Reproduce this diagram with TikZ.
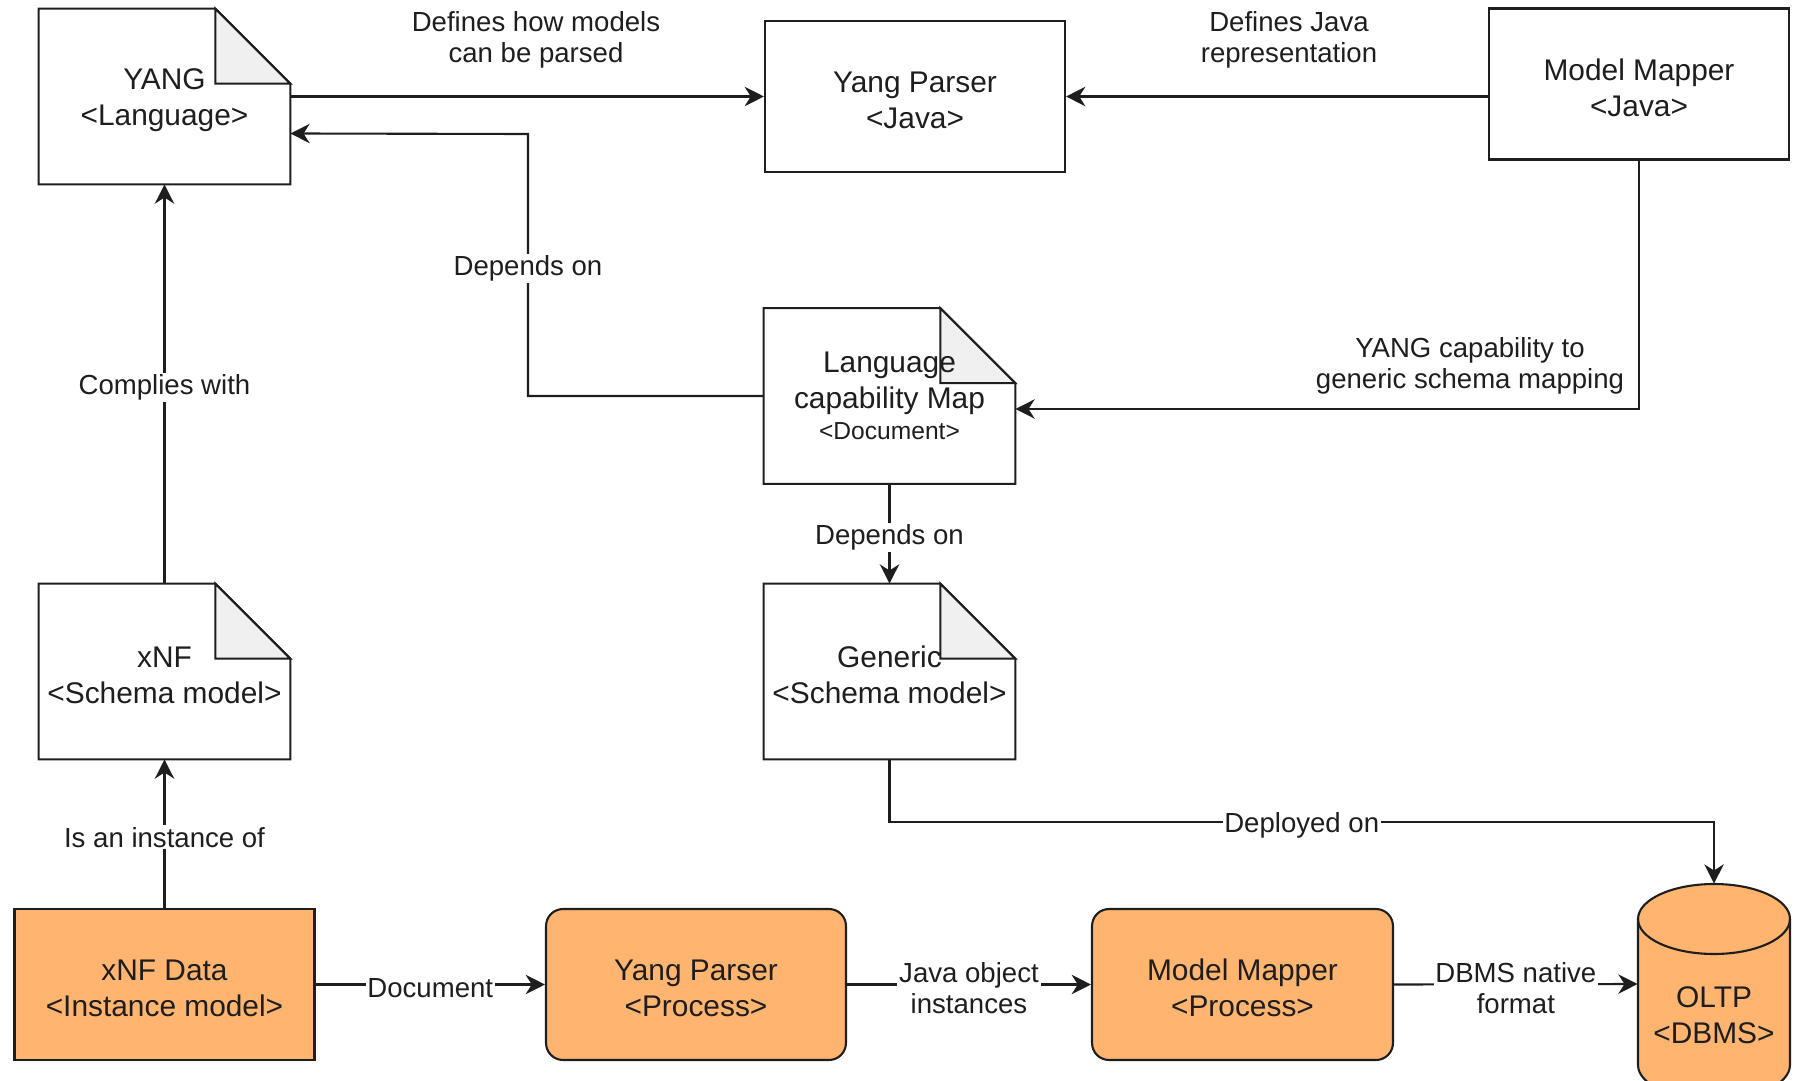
\documentclass[tikz,border=0pt]{standalone}
\usepackage{fontspec}
\setmainfont{Liberation Sans}
\usepackage{xcolor}
\definecolor{proc-orange}{RGB}{255,181,112}
\definecolor{fold-gray}{RGB}{240,240,240}
\definecolor{ink}{RGB}{30,30,30}
\usepackage{tikz}
\usetikzlibrary{arrows.meta,backgrounds}

% a little room above the first line of a box text
\newcommand{\topgap}{\rule{0pt}{16.3pt}}

% outline of a document node with its folded corner
\newcommand{\notedoc}[1]{%
  \begin{pgfonlayer}{background}
    \draw[note line, fill=white] (#1.south west) -- (#1.north west)
      -- ([xshift=-1.5cm]#1.north east) -- ([yshift=-1.5cm]#1.north east)
      -- (#1.south east) -- cycle;
    \draw[note line, fill=fold-gray] ([xshift=-1.5cm]#1.north east)
      -- ([xshift=-1.5cm,yshift=-1.5cm]#1.north east)
      -- ([yshift=-1.5cm]#1.north east) -- cycle;
  \end{pgfonlayer}}

\begin{document}
\begin{tikzpicture}[
    x=0.02cm, y=-0.02cm,
    note line/.style={draw=ink, line width=1.2pt},
    doc box/.style={
        minimum width=5.02cm,
        minimum height=3.5cm,
        inner sep=0pt,
        text=ink,
        font=\fontsize{17}{20.6}\selectfont,
        align=center
    },
    plain box/.style={
        draw=ink,
        line width=1.2pt,
        fill=white,
        minimum width=6cm,
        minimum height=3.02cm,
        inner sep=0pt,
        text=ink,
        font=\fontsize{17}{20.6}\selectfont,
        align=center
    },
    data box/.style={plain box, fill=proc-orange},
    process box/.style={plain box, fill=proc-orange, rounded corners=0.34cm},
    edge label/.style={
        text=ink,
        font=\fontsize{15.7}{17.7}\selectfont,
        align=center,
        inner sep=1pt,
        yshift=-2pt
    },
    on line/.style={edge label, fill=white},
    arrow/.style={-{Stealth[length=11pt,width=11pt,inset=3.5pt]}, draw=ink, line width=1.2pt}
]
\useasboundingbox (0,0) rectangle (1803,1081);
\clip (0,0) rectangle (1803,1081);

% Top row
\node[doc box] (yang) at (164.5,96.5) {\topgap YANG\\<Language>};
\notedoc{yang}
\node[plain box] (yparser) at (915,96.5) {\topgap Yang Parser\\<Java>};
\node[plain box] (mmapper) at (1639,84) {\topgap Model Mapper\\<Java>};

% Middle documents
\node[doc box] (lcm) at (889.5,396) {Language\\capability Map\\[-3pt]{\fontsize{14}{16}\selectfont <Document>}};
\notedoc{lcm}
\node[doc box] (generic) at (889.5,671.5) {\topgap Generic\\<Schema model>};
\notedoc{generic}
\node[doc box] (xnf) at (164.5,671.5) {\topgap xNF\\<Schema model>};
\notedoc{xnf}

% Bottom row
\node[data box] (xnfdata) at (164.5,984.5) {\topgap xNF Data\\<Instance model>};
\node[process box] (ypproc) at (696,984.5) {\topgap Yang Parser\\<Process>};
\node[process box, minimum width=6.02cm] (mmproc) at (1242.5,984.5) {\topgap Model Mapper\\<Process>};

% OLTP cylinder
\node[minimum width=3.04cm, minimum height=4cm, inner sep=0pt] (oltp) at (1714,984) {};
\draw[note line, fill=proc-orange] (1638,919) -- (1638,1065)
  arc[start angle=180, end angle=360, x radius=1.52cm, y radius=0.7cm]
  -- (1790,919)
  arc[start angle=0, end angle=180, x radius=1.52cm, y radius=0.7cm] -- cycle;
\draw[note line] (1638,919)
  arc[start angle=180, end angle=360, x radius=1.52cm, y radius=0.7cm];
\node[plain box, draw=none, fill=none, minimum width=0pt, minimum height=0pt] (oltptext) at (1714,1015) {OLTP\\<DBMS>};

% Arrows
\draw[arrow] (yang.east) -- (yparser.west);
\node[edge label] (parsedlbl) at (536,36) {Defines how models\\can be parsed};
\draw[arrow] (mmapper.west |- yparser.east) -- (yparser.east);
\node[edge label] (javalbl) at (1289,36) {Defines Java\\representation};
\draw[arrow] (lcm.west) -| (528,134) node[on line, pos=0.75] {Depends on} -- ([yshift=-0.74cm]yang.east);
\draw[arrow] (mmapper.south) |- ([yshift=-0.26cm]lcm.east);
\node[edge label] (maplbl) at (1470,362) {YANG capability to\\generic schema mapping};
\draw[arrow] (lcm.south) -- node[on line] {Depends on} (generic.north);
\draw[arrow] (xnf.north) -- node[on line] {Complies with} (yang.south);
\draw[arrow] (xnfdata.north) -- node[on line] {Is an instance of} (xnf.south);
\draw[arrow] (xnfdata.east) -- node[on line] {Document} (ypproc.west);
\draw[arrow] (ypproc.east) -- node[on line] {Java object\\instances} (mmproc.west);
\draw[arrow] (mmproc.east) -- node[on line] {DBMS native\\format} (oltp.west);
\draw[arrow] (generic.south) |- (1714,822) node[on line, pos=0.75] {Deployed on} -- (oltp.north);

\end{tikzpicture}
\end{document}
